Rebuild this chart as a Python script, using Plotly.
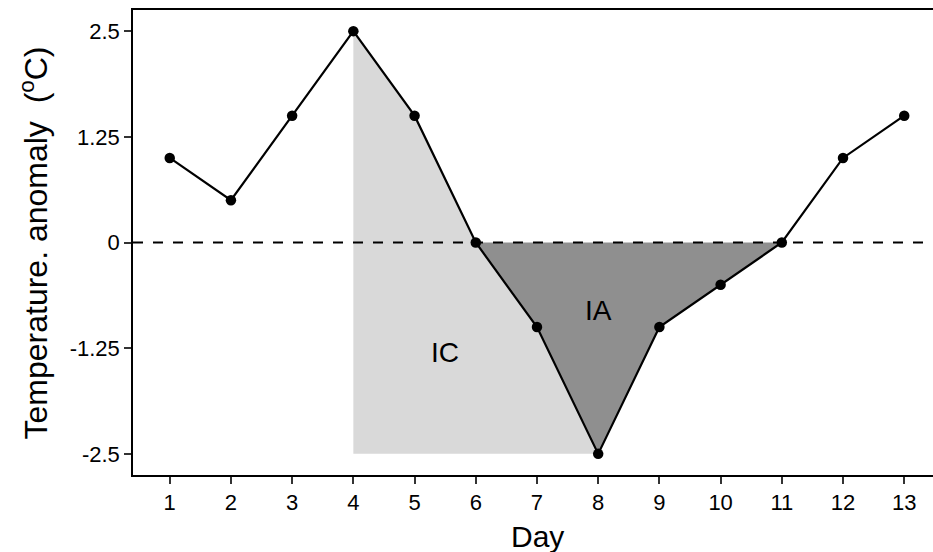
import plotly.graph_objects as go

days = list(range(1, 14))
anomaly = [1.0, 0.5, 1.5, 2.5, 1.5, 0.0, -1.0, -2.5, -1.0, -0.5, 0.0, 1.0, 1.5]
y_ticks = [-2.5, -1.25, 0, 1.25, 2.5]
y_tick_labels = ["-2.5", "-1.25", "0", "1.25", "2.5"]
labels = ["IC", "IA"]
label_x = [5.5, 8.0]
label_y = [-1.3, -0.8]

FONT = "Arial, 'Liberation Sans', sans-serif"

# IC polygon: from day 4 (peak) down the curve to day 8, then back along the minimum
ic_x = days[3:8] + [days[3]]
ic_y = anomaly[3:8] + [anomaly[7]]
# IA polygon: negative region between day 6 and day 11
ia_x = days[5:11]
ia_y = anomaly[5:11]

fig = go.Figure()
fig.add_trace(go.Scatter(x=ic_x, y=ic_y, fill="toself", fillcolor="#D9D9D9",
                         line=dict(width=0), mode="lines", hoverinfo="skip", showlegend=False))
fig.add_trace(go.Scatter(x=ia_x, y=ia_y, fill="toself", fillcolor="#8F8F8F",
                         line=dict(width=0), mode="lines", hoverinfo="skip", showlegend=False))
fig.add_trace(go.Scatter(x=[0.4, 13.6], y=[0, 0], mode="lines",
                         line=dict(color="black", width=2, dash="10px,10px"),
                         hoverinfo="skip", showlegend=False))
fig.add_trace(go.Scatter(x=days, y=anomaly, mode="lines+markers",
                         line=dict(color="black", width=2.2),
                         marker=dict(color="black", size=10.5), showlegend=False))

for t, lx, ly in zip(labels, label_x, label_y):
    fig.add_annotation(x=lx, y=ly, text=t, showarrow=False,
                       font=dict(family=FONT, size=28, color="black"))

fig.add_annotation(xref="paper", yref="paper", x=0.505, y=0, yshift=-61,
                   text="Day", showarrow=False, yanchor="middle",
                   font=dict(family=FONT, size=30, color="black"))
fig.add_annotation(xref="paper", yref="paper", x=0, xshift=-100, y=0.5, yshift=-1,
                   text="Temperature. anomaly\u00a0 (<sup>o</sup>C)", showarrow=False,
                   textangle=-90, xanchor="center", yanchor="middle",
                   font=dict(family=FONT, size=32, color="black"))

fig.update_layout(
    width=933, height=552,
    margin=dict(l=133, r=0, t=10, b=77),
    plot_bgcolor="white", paper_bgcolor="white",
    font=dict(family=FONT, color="black"),
    xaxis=dict(range=[0.4, 13.47], tickvals=days, ticktext=[str(d) for d in days],
               showgrid=False, zeroline=False, showline=True, mirror=True,
               linecolor="black", linewidth=1.5,
               ticks="outside", ticklen=7, tickwidth=2, tickcolor="#333333",
               tickfont=dict(family=FONT, size=22, color="black")),
    yaxis=dict(range=[-2.75, 2.75], tickvals=y_ticks, ticktext=y_tick_labels,
               showgrid=False, zeroline=False, showline=True,
               linecolor="black", linewidth=1.5,
               ticks="outside", ticklen=7, tickwidth=2, tickcolor="#333333",
               tickfont=dict(family=FONT, size=22, color="black")),
)

fig.write_html("out.html")
